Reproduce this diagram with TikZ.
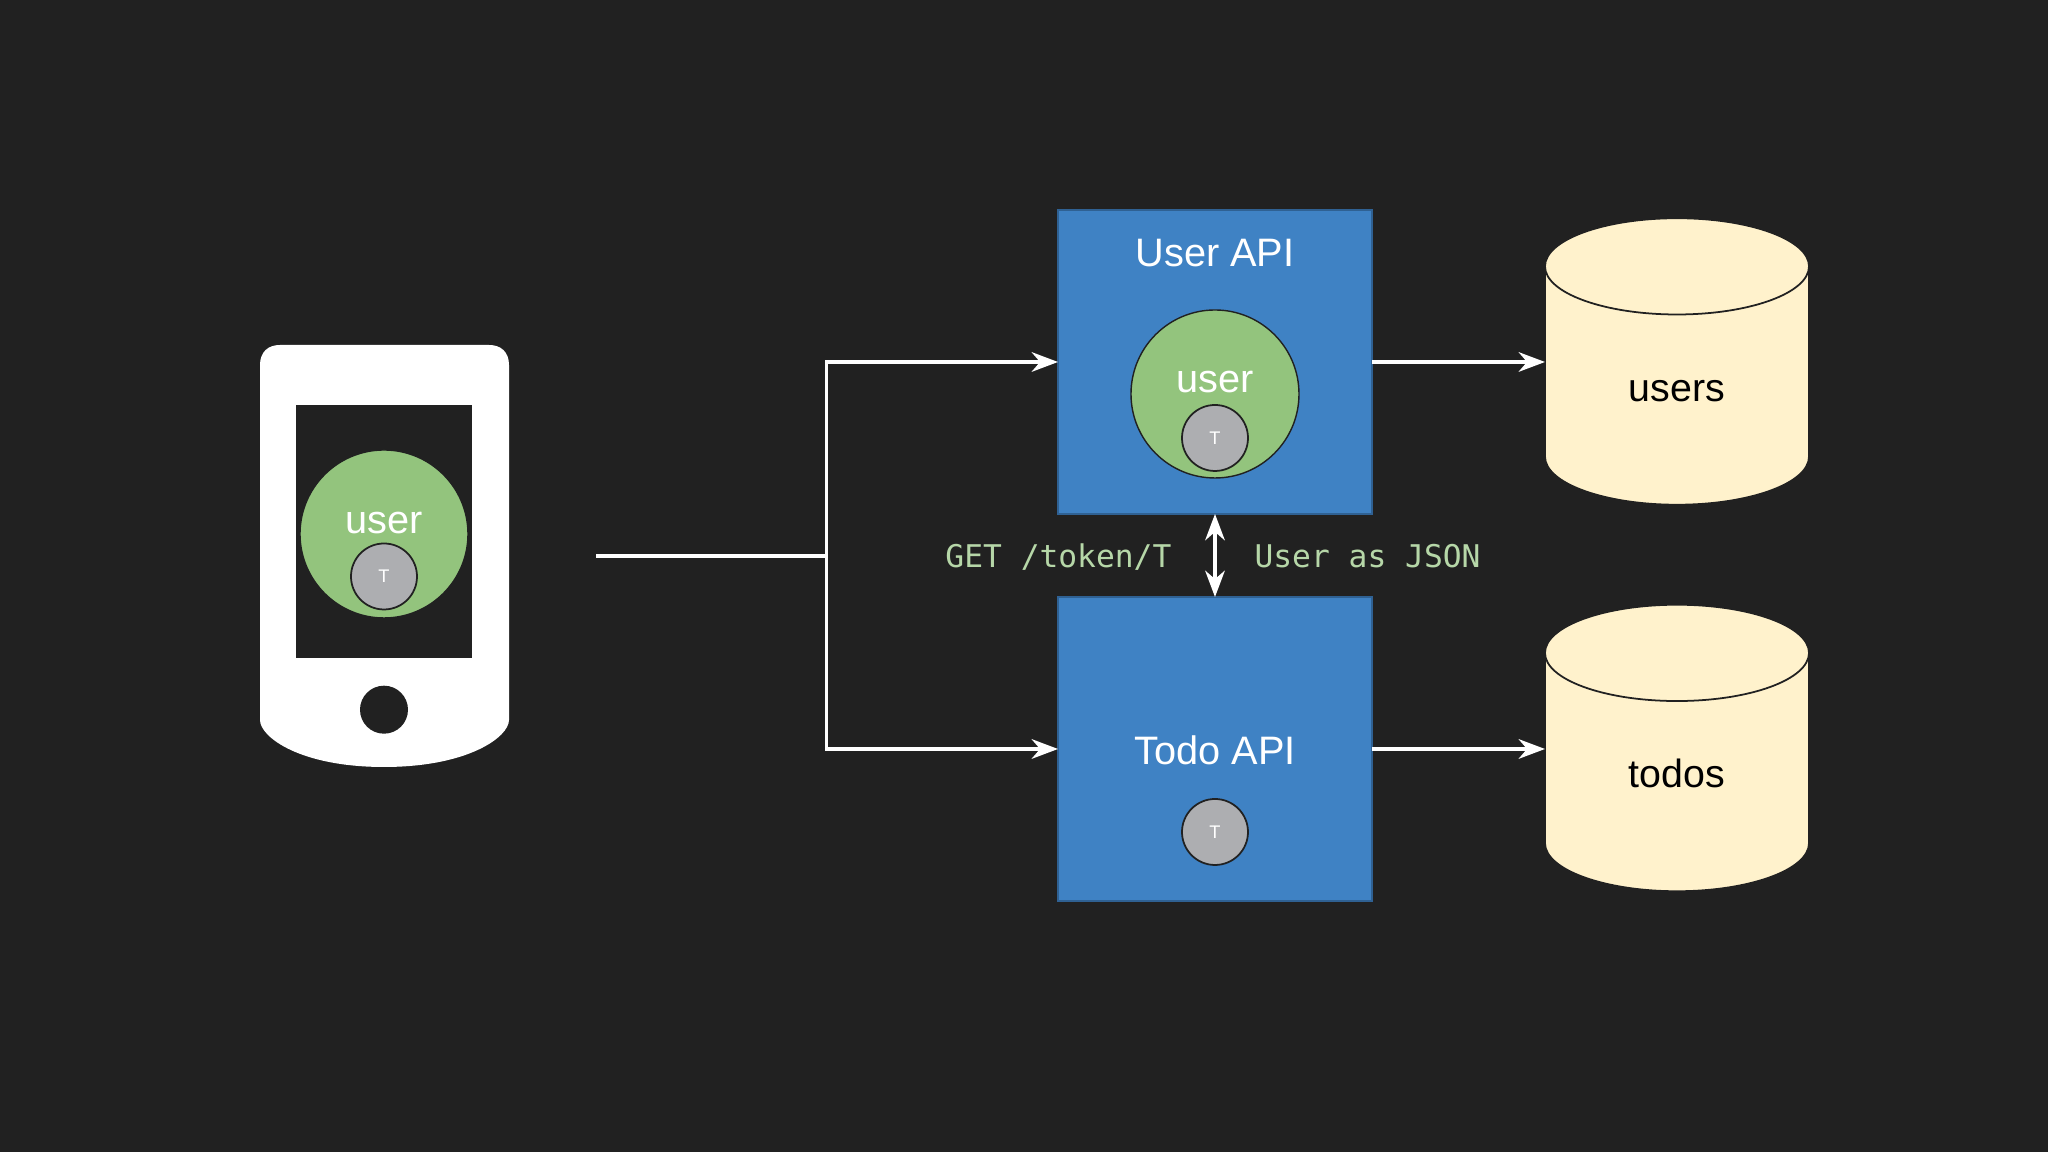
\documentclass[tikz,border=0pt]{standalone}
\usepackage{fontspec}
\setmainfont{Liberation Sans}
\setmonofont{DejaVu Sans Mono}
\usepackage{tikz}
\usetikzlibrary{arrows.meta, positioning, shapes.geometric}
\definecolor{bgdark}{HTML}{212121}
\definecolor{apiblue}{HTML}{3F82C4}
\definecolor{usergreen}{HTML}{93C47D}
\definecolor{tokengray}{HTML}{ADAEB1}
\definecolor{dbcream}{HTML}{FFF2CC}
\definecolor{msggreen}{HTML}{B6D7A8}

\begin{document}
\begin{tikzpicture}[
            apibox/.style={rectangle, draw=apiblue!75!black, line width=0.4pt, fill=apiblue, minimum width=3.14cm, minimum height=3.04cm, outer sep=0pt},
            dbnode/.style={cylinder, shape border rotate=90, aspect=1, draw=bgdark, line width=0.5pt, fill=dbcream, cylinder uses custom fill, cylinder body fill=dbcream, cylinder end fill=dbcream, minimum width=2.64cm, minimum height=2.865cm, outer sep=0pt, inner sep=0pt, text=black, text height=8.8pt, text depth=0pt, font=\fontsize{11.2}{13}\selectfont},
            usercircle/.style={circle, draw=bgdark, line width=0.4pt, fill=usergreen, minimum size=1.68cm, inner sep=0pt, outer sep=0pt},
            tokencircle/.style={circle, draw=bgdark, line width=0.5pt, fill=tokengray, minimum size=0.66cm, inner sep=0pt, outer sep=0pt, text=white, font=\fontsize{5.2}{6}\selectfont},
            whitelabel/.style={inner sep=0pt, text=white, font=\fontsize{11.3}{13}\selectfont},
            msglabel/.style={inner sep=0pt, yshift=-0.7pt, text=msggreen, text height=7pt, text depth=1.5pt, font=\ttfamily\fontsize{8.9}{11}\selectfont},
            wire/.style={draw=white, line width=0.9pt},
            wirearrow/.style={wire, -{Stealth[length=7.5pt, width=5.6pt, inset=2.4pt]}},
            ]
            \fill[bgdark] (0,0) rectangle (20.48,11.52);

            % phone
            \fill[white] (2.60,7.87) .. controls (2.60,8.00) and (2.68,8.07) .. (2.80,8.07) -- (4.89,8.07)
                .. controls (5.01,8.07) and (5.09,8.00) .. (5.09,7.87) -- (5.09,4.32)
                .. controls (5.09,4.15) and (4.68,3.85) .. (3.84,3.85)
                .. controls (3.00,3.85) and (2.60,4.15) .. (2.60,4.32) -- cycle;
            \node[rectangle, fill=bgdark, minimum width=1.76cm, minimum height=2.53cm, outer sep=0pt] (screen) at (3.84,6.205) {};
            \node[usercircle] (phoneuser) [below=0.45cm of screen.north] {};
            \node[tokencircle] (phonetoken) [above=0.085cm of phoneuser.south] {T};
            \node[whitelabel] (phoneuserlabel) [above=0.09cm of phonetoken.north] {user};
            \node[circle, fill=bgdark, minimum size=0.48cm, inner sep=0pt] (homebutton) [below=0.27cm of screen.south] {};

            % services
            \node[apibox] (userapi) at (12.15,7.90) {};
            \node[apibox] (todoapi) [below=0.83cm of userapi] {};
            \node[whitelabel] (userapilabel) [below=0.28cm of userapi.north] {User API};
            \node[usercircle] (apiuser) [below=1.00cm of userapi.north] {};
            \node[tokencircle] (apitoken) [above=0.07cm of apiuser.south] {T};
            \node[whitelabel] (apiuserlabel) [above=0.11cm of apitoken.north] {user};
            \node[whitelabel] (todoapilabel) [below=1.38cm of todoapi.north] {Todo API};
            \node[tokencircle] (todotoken) [below=2.02cm of todoapi.north] {T};

            % databases
            \node[dbnode] (usersdb) at (16.77,7.66) {users};
            \node[dbnode] (todosdb) [below=1.00cm of usersdb] {todos};

            % connectors
            \coordinate (phoneout) at (5.96,5.96);
            \coordinate (fork) at (8.265,5.96);
            \draw[wire] (phoneout) -- (fork);
            \draw[wirearrow] (fork) |- (userapi);
            \draw[wirearrow] (fork) |- (todoapi);
            \draw[wirearrow] (userapi) -- (userapi -| usersdb.west);
            \draw[wirearrow] (todoapi) -- (todoapi -| todosdb.west);
            \draw[wire, {Stealth[length=7.5pt, width=5.6pt, inset=2.4pt]}-{Stealth[length=7.5pt, width=5.6pt, inset=2.4pt]}] (userapi) --
                node[msglabel, left=0.42cm] (getlabel) {GET /token/T}
                node[msglabel, right=0.38cm] (jsonlabel) {User as JSON} (todoapi);
        \end{tikzpicture}
\end{document}
